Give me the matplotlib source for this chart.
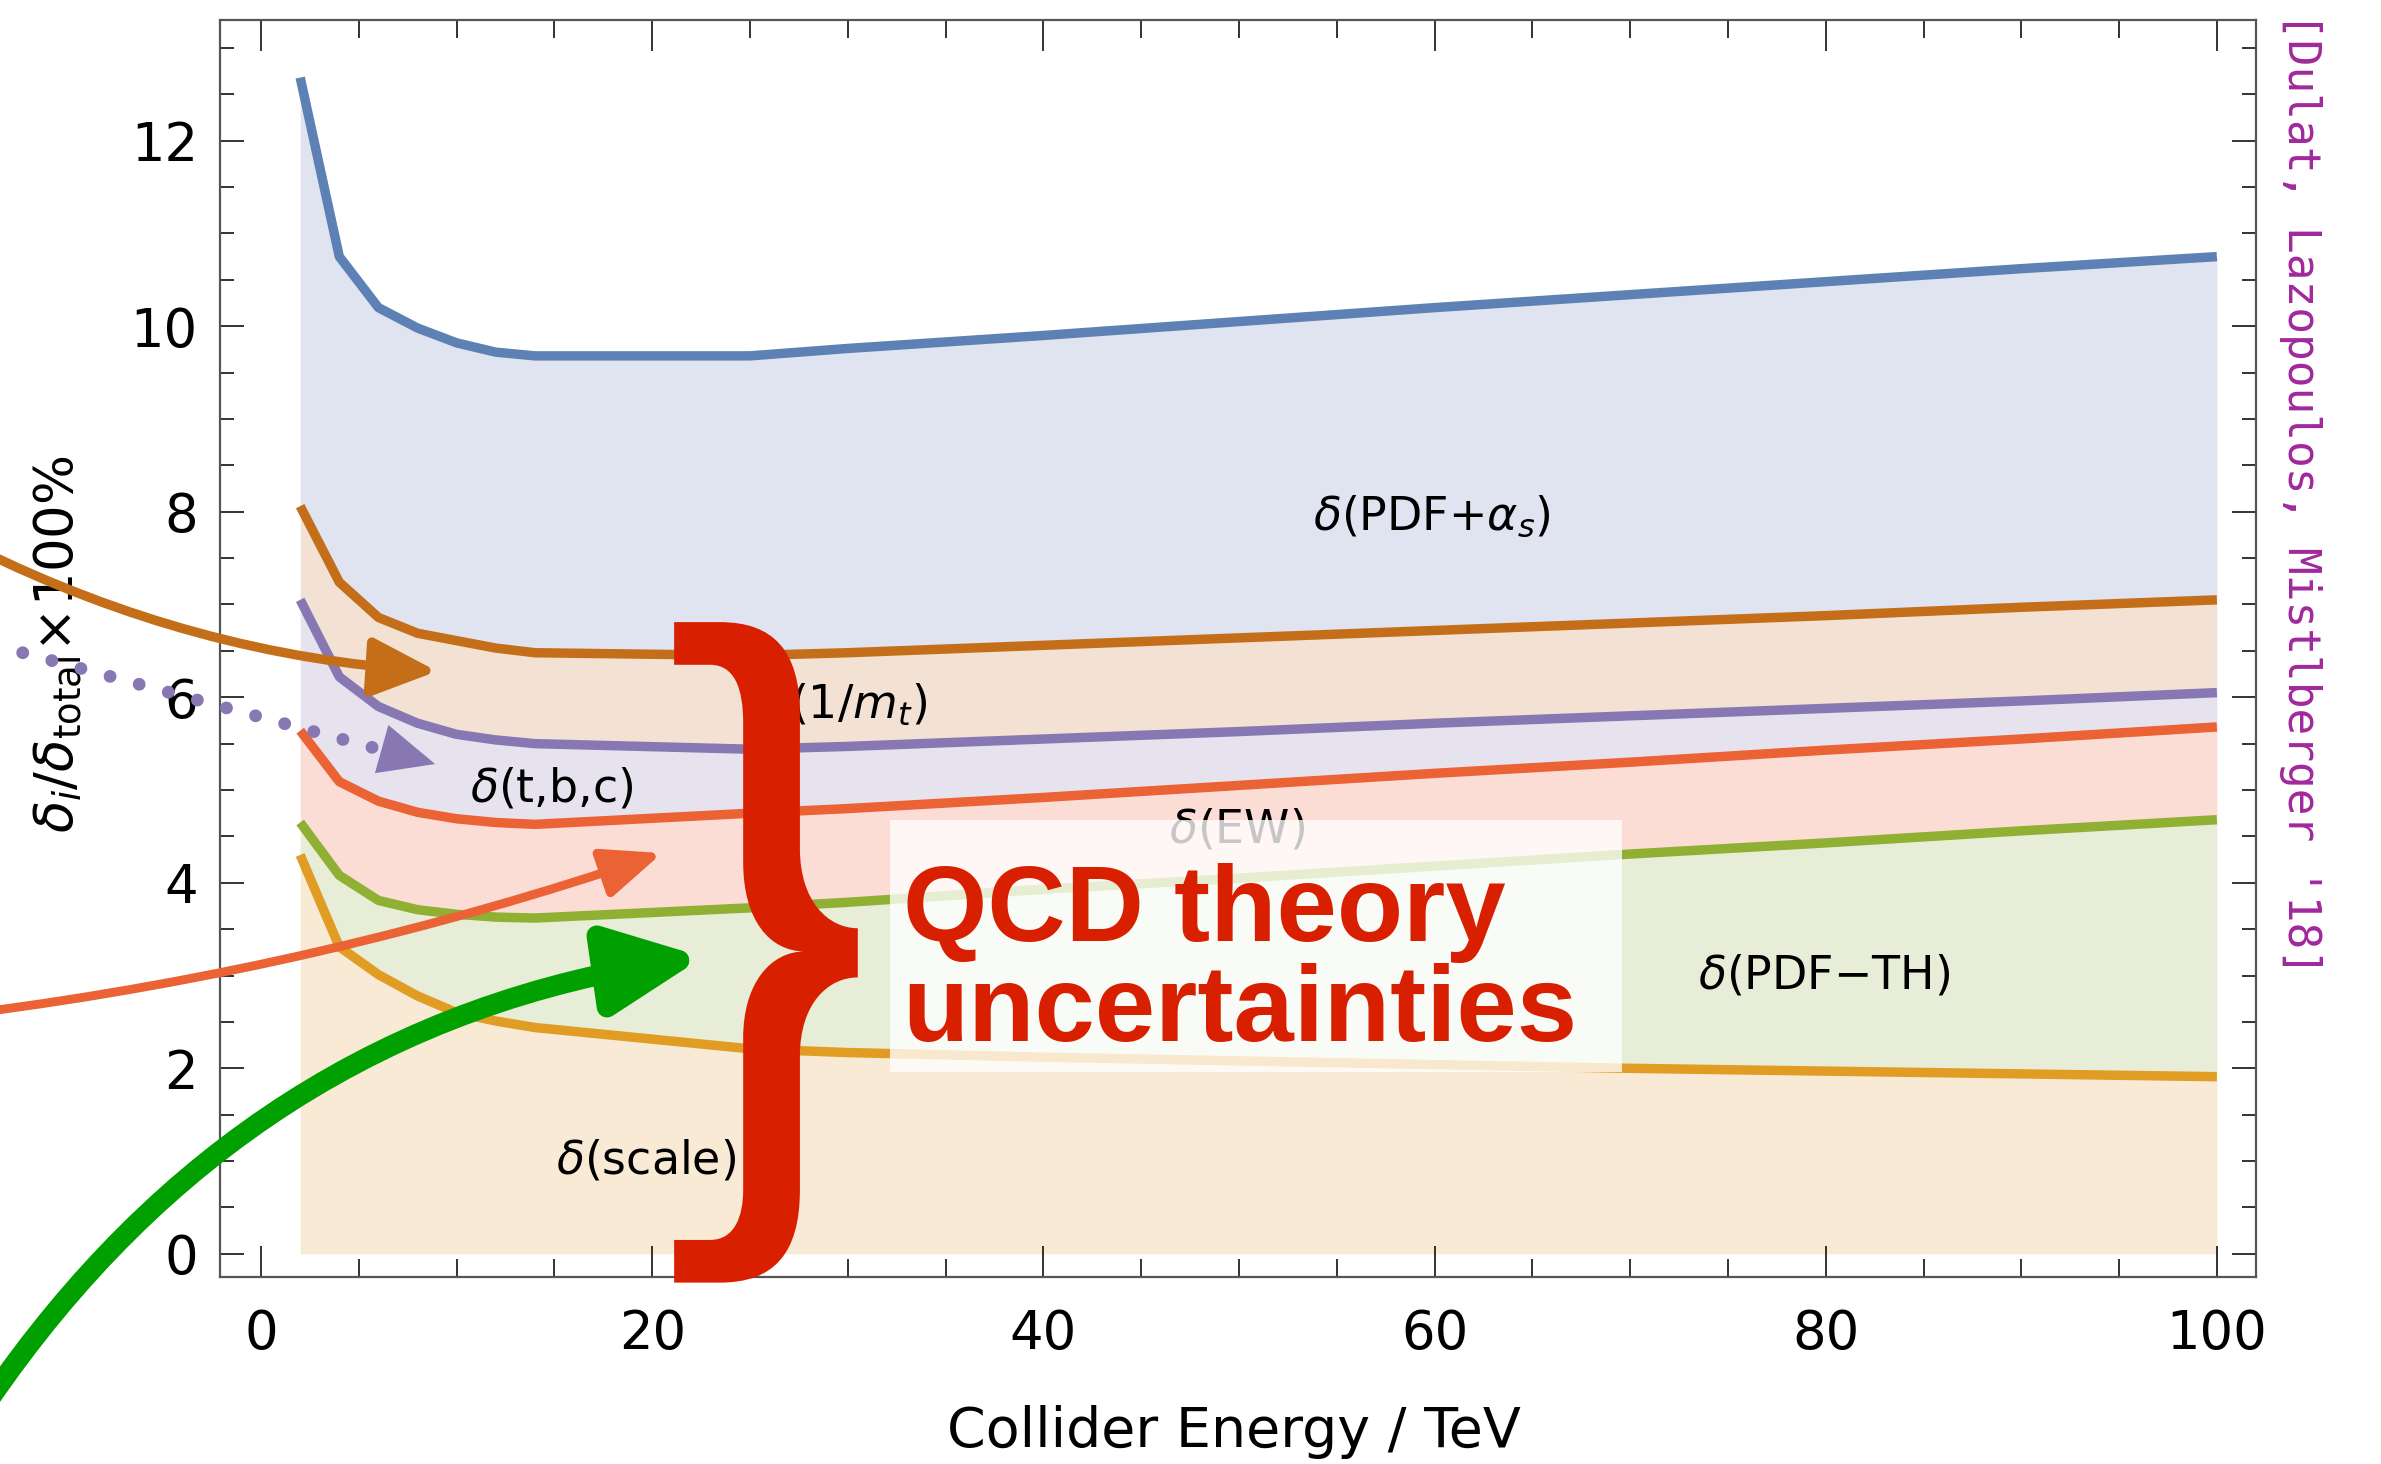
import numpy as np
import matplotlib.pyplot as plt
from matplotlib.patches import FancyArrowPatch, PathPatch, Rectangle
from matplotlib.path import Path
from matplotlib.ticker import MultipleLocator

plt.rcParams['mathtext.fontset'] = 'dejavusans'

# collider energy (TeV) and relative uncertainty shares (stacked, %)
energy = [2, 4, 6, 8, 10, 12, 14, 25, 30, 40, 50, 60, 70, 80, 90, 100]
pdf_as = [12.68, 10.75, 10.2, 9.98, 9.82, 9.72, 9.68, 9.68, 9.76, 9.9, 10.05, 10.2, 10.34, 10.48, 10.62, 10.75]
one_mt = [8.06, 7.24, 6.86, 6.69, 6.61, 6.53, 6.48, 6.45, 6.48, 6.56, 6.64, 6.72, 6.80, 6.88, 6.97, 7.05]
tbc = [7.05, 6.22, 5.90, 5.72, 5.60, 5.54, 5.50, 5.44, 5.47, 5.55, 5.63, 5.72, 5.80, 5.88, 5.96, 6.05]
ew = [5.64, 5.09, 4.88, 4.76, 4.69, 4.65, 4.63, 4.75, 4.80, 4.92, 5.05, 5.18, 5.30, 5.43, 5.55, 5.68]
pdf_th = [4.65, 4.08, 3.81, 3.71, 3.66, 3.63, 3.62, 3.73, 3.79, 3.93, 4.05, 4.18, 4.31, 4.43, 4.56, 4.68]
scale = [4.30, 3.31, 3.01, 2.78, 2.60, 2.51, 2.44, 2.21, 2.17, 2.12, 2.08, 2.04, 2.00, 1.97, 1.94, 1.91]

line_cols = ['#5e81b5', '#c56e1a', '#8778b3', '#eb6235', '#8fb032', '#e19c24']
fill_cols = ['#dfe4f0', '#f3e2d4', '#e6e3ef', '#fbddd6', '#e7edd7', '#f8ead5']

fig = plt.figure(figsize=(2381 / 200, 1464 / 200), dpi=200)
ax = fig.add_axes([0.0924, 0.1277, 0.9475 - 0.0924, 0.9863 - 0.1277])

curves = [pdf_as, one_mt, tbc, ew, pdf_th, scale]
lowers = curves[1:] + [[0] * len(energy)]
for up, lo, fc in zip(curves, lowers, fill_cols):
    ax.fill_between(energy, lo, up, color=fc, lw=0, zorder=1)
for c, lc in zip(curves, line_cols):
    ax.plot(energy, c, color=lc, lw=3.4, zorder=2, solid_capstyle='butt')

ax.set_xlim(-2.1, 102)
ax.set_ylim(-0.25, 13.3)
ax.set_xticks(range(0, 101, 20))
ax.set_yticks(range(0, 13, 2))
ax.xaxis.set_minor_locator(MultipleLocator(5))
ax.yaxis.set_minor_locator(MultipleLocator(0.5))
ax.tick_params(which='both', direction='in', top=True, right=True, color='#333333', width=0.7)
ax.tick_params(axis='x', which='major', length=11, pad=11, labelsize=19)
ax.tick_params(axis='x', which='minor', length=6.5)
ax.tick_params(axis='y', which='major', length=8.6, pad=8, labelsize=19)
ax.tick_params(axis='y', which='minor', length=5)
for s in ax.spines.values():
    s.set_color('#555555')
    s.set_linewidth(0.8)

ax.set_xlabel('Collider Energy / TeV', fontsize=20)
ax.xaxis.set_label_coords(0.498, -0.123)
ax.xaxis.label.set_va('center')
ax.set_ylabel(r'$\delta_i/\delta_{\mathrm{total}}\!\times\!100\%$', fontsize=19)
ax.yaxis.set_label_coords(-0.0796, 0.503)
ax.yaxis.label.set_va('center')

# band labels
lab = dict(fontsize=16.5, va='center', ha='left', zorder=3)
ax.text(53.8, 7.95, r'$\delta$(PDF+$\alpha_s$)', **lab)
ax.text(25.6, 5.91, r'$\delta$(1/$m_t$)', **lab)
ax.text(10.7, 5.01, r'$\delta$(t,b,c)', **lab)
ax.text(46.4, 4.57, r'$\delta$(EW)', **lab)
ax.text(73.45, 3.0, r'$\delta$(PDF$-$TH)', **lab)
ax.text(15.1, 1.0, r'$\delta$(scale)', **lab)

# translucent box and QCD text
ax.add_patch(Rectangle((32.14, 1.96), 37.43, 2.72, fc='white', alpha=0.78, lw=0, zorder=4))
qcd_red = '#d81f00'
ax.text(32.8, 3.37, 'QCD theory', fontsize=39, fontweight='bold', family='Liberation Sans',
        color=qcd_red, ha='left', va='baseline', zorder=5)
ax.text(32.8, 2.29, 'uncertainties', fontsize=39, fontweight='bold', family='Liberation Sans',
        color=qcd_red, ha='left', va='baseline', zorder=5)

# big curly brace
L, Ii, Oo, T = 21.12, 24.65, 27.55, 30.51
verts = [
    (L, 6.81), (23.46, 6.81),
    (26.2, 6.81), (Oo, 6.5), (Oo, 5.82),
    (Oo, 4.37),
    (Oo, 3.8), (29.0, 3.51), (T, 3.51),
    (T, 2.98),
    (29.0, 2.98), (Oo, 2.7), (Oo, 2.13),
    (Oo, 0.69),
    (Oo, 0.0), (26.2, -0.31), (23.46, -0.31),
    (L, -0.31), (L, 0.15), (22.95, 0.15),
    (24.2, 0.15), (Ii, 0.4), (Ii, 0.69),
    (Ii, 2.33),
    (Ii, 2.9), (26.0, 3.26), (27.8, 3.26),
    (26.0, 3.26), (Ii, 3.6), (Ii, 4.22),
    (Ii, 5.72),
    (Ii, 6.1), (24.2, 6.35), (22.95, 6.35),
    (L, 6.35), (L, 6.81),
]
codes = [Path.MOVETO, Path.LINETO,
         Path.CURVE4, Path.CURVE4, Path.CURVE4,
         Path.LINETO,
         Path.CURVE4, Path.CURVE4, Path.CURVE4,
         Path.LINETO,
         Path.CURVE4, Path.CURVE4, Path.CURVE4,
         Path.LINETO,
         Path.CURVE4, Path.CURVE4, Path.CURVE4,
         Path.LINETO, Path.LINETO, Path.LINETO,
         Path.CURVE4, Path.CURVE4, Path.CURVE4,
         Path.LINETO,
         Path.CURVE4, Path.CURVE4, Path.CURVE4,
         Path.CURVE4, Path.CURVE4, Path.CURVE4,
         Path.LINETO,
         Path.CURVE4, Path.CURVE4, Path.CURVE4,
         Path.LINETO, Path.CLOSEPOLY]
ax.add_patch(PathPatch(Path(verts, codes), fc=qcd_red, ec='none', zorder=6, clip_on=False))

# arrows pointing into the bands
def arrow(p0, p1, col, lw, rad, hl, hw):
    a = FancyArrowPatch(p0, p1, connectionstyle='arc3,rad=%g' % rad,
                        arrowstyle='-|>,head_length=%g,head_width=%g' % (hl, hw),
                        mutation_scale=1, color=col, lw=lw, clip_on=False, zorder=7,
                        shrinkA=0, shrinkB=0)
    ax.add_patch(a)

arrow((-14.5, 7.6), (9.0, 6.28), '#c56e1a', 3.4, 0.1, 20, 9)
arrow((-14.5, 2.6), (20.5, 4.32), '#eb6235', 3.2, 0.05, 18, 7.5)
arrow((-14.0, -1.6), (22.6, 3.2), '#00a000', 7.4, -0.22, 28, 13)
ax.plot([-12.19, 6.2], [6.48, 5.43], color='#8778b3', lw=4.6, ls=(0, (0.01, 2.35)),
        dash_capstyle='round', clip_on=False, zorder=7)
arrow((5.0, 5.51), (8.9, 5.28), '#8778b3', 0, 0, 20, 9)

fig.text(0.966, 0.663, "[Dulat, Lazopoulos, Mistlberger '18]", rotation=270,
         ha='center', va='center', family='DejaVu Sans Mono', fontsize=16, color='#a0289c')

fig.savefig('out.png', dpi=200)
